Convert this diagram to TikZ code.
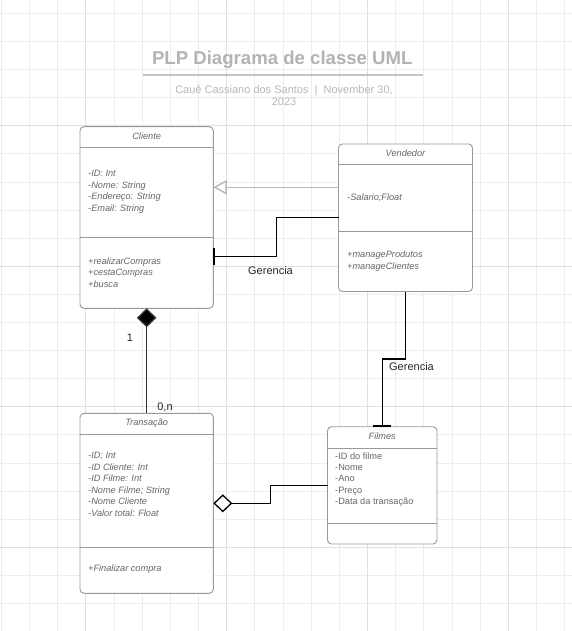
\documentclass[tikz,border=0pt]{standalone}
\usepackage{fontspec}
\setmainfont{Liberation Sans}
\usetikzlibrary{arrows.meta,calc}
\definecolor{gridminor}{HTML}{EDEDED}
\definecolor{gridmajor}{HTML}{E0E0E0}
\definecolor{boxline}{HTML}{999999}
\definecolor{txt}{HTML}{666666}
\definecolor{titlecol}{HTML}{B3B3B3}
\definecolor{subcol}{HTML}{B8B8B8}
\definecolor{ulcol}{HTML}{C4C4C4}
\definecolor{inhcol}{HTML}{B8B8B8}
\tikzset{
 classbox/.style={draw=boxline, line width=0.9pt, rounded corners=4pt, fill=white, inner sep=0pt, outer sep=0pt},
 classtitle/.style={font=\fontsize{9.2}{11}\selectfont\itshape, text=txt, inner sep=0pt},
 member/.style={font=\fontsize{9.2}{11.5}\selectfont\itshape, text=txt, inner sep=0pt, anchor=west, align=left},
 plainmember/.style={font=\fontsize{9.2}{11.4}\selectfont, text=txt, inner sep=0pt, anchor=west, align=left},
 sepline/.style={draw=boxline, line width=0.9pt},
 conn/.style={line width=1.3pt, draw=black},
 lbl/.style={font=\fontsize{11}{13}\selectfont, text=black!85, inner sep=0pt},
 gridln/.style={draw=gridminor, line width=0.8pt},
 gridmj/.style={draw=gridmajor, line width=0.9pt},
}
\begin{document}
\begin{tikzpicture}[x=1pt,y=-1pt]
\useasboundingbox (0,0) rectangle (572,631);
\fill[white] (0,0) rectangle (572,631);
% grid
\foreach \i in {0,...,20} \draw[gridln] (1.3+\i*28.17,0) -- (1.3+\i*28.17,631);
\foreach \j in {0,...,21} \draw[gridln] (0,13.3+\j*28.1) -- (572,13.3+\j*28.1);
\foreach \i in {3,8,13,18} \draw[gridmj] (1.3+\i*28.17,0) -- (1.3+\i*28.17,631);
\foreach \j in {4,9,14,19} \draw[gridmj] (0,13.3+\j*28.1) -- (572,13.3+\j*28.1);

% title
\node[font=\fontsize{18.6}{22}\selectfont\bfseries, text=titlecol, inner sep=0pt] (title) at (282.3,60) {PLP Diagrama de classe UML};
\coordinate (ulA) at (142.7,75);
\coordinate (ulB) at (423.3,75);
\draw[draw=ulcol, line width=2pt] (ulA) -- (ulB);
\node[font=\fontsize{11}{11.7}\selectfont, text=subcol, align=center, inner sep=0pt] (sub) at (284,95.8) {Cauê Cassiano dos Santos~~|~~November 30,\\2023};

% boxes
\node[classbox, minimum width=133.3pt, minimum height=181.6pt] (cliente) at (146.65,217.5) {};
\node[classbox, minimum width=134pt, minimum height=147.5pt] (vend) at (405.5,217.75) {};
\node[classbox, minimum width=133.3pt, minimum height=180pt] (trans) at (146.65,503.3) {};
\node[classbox, minimum width=109.5pt, minimum height=117.3pt] (filmes) at (382.25,485.35) {};

% separators
\draw[sepline] (cliente.west |- 0,147.3) -- (cliente.east |- 0,147.3);
\draw[sepline] (cliente.west |- 0,237.3) -- (cliente.east |- 0,237.3);
\draw[sepline] (vend.west |- 0,164.3) -- (vend.east |- 0,164.3);
\draw[sepline] (vend.west |- 0,231.7) -- (vend.east |- 0,231.7);
\draw[sepline] (trans.west |- 0,434.3) -- (trans.east |- 0,434.3);
\draw[sepline] (trans.west |- 0,547.7) -- (trans.east |- 0,547.7);
\draw[sepline] (filmes.west |- 0,448.3) -- (filmes.east |- 0,448.3);
\draw[sepline] (filmes.west |- 0,523.3) -- (filmes.east |- 0,523.3);

% texts
\node[classtitle] (clT) at (146.65,136) {Cliente};
\node[member] (clA) at (88,191.7) {-ID: Int\\-Nome: String\\-Endereço: String\\-Email: String};
\node[member] (clM) at (88,272.3) {+realizarCompras\\+cestaCompras\\+busca};

\node[classtitle] (veT) at (405.5,153.3) {Vendedor};
\node[member] (veA) at (347,197.3) {-Salario;Float};
\node[member] (veM) at (347,260.9) {+manageProdutos\\+manageClientes};

\node[classtitle] (trT) at (146.65,423.3) {Transação};
\node[member] (trA) at (88,484.4) {-ID; Int\\-ID Cliente: Int\\-ID Filme: Int\\-Nome Filme; String\\-Nome Cliente\\-Valor total: Float};
\node[member] (trM) at (88,569.3) {+Finalizar compra};

\node[classtitle] (fiT) at (382.25,436) {Filmes};
\node[plainmember] (fiA) at (335,479.5) {-ID do filme\\-Nome\\-Ano\\-Preço\\-Data da transação};

% connectors
\draw[draw=inhcol, line width=1.4pt, -{Triangle[open, length=13.5pt, width=14.5pt, fill=white]}] (vend.west |- 0,187.3) -- (cliente.east |- 0,187.3);

\draw[conn, -{Bar[width=17pt, line width=2pt]}] (vend.west |- 0,217.3) -| (276.7,256.5) -- (cliente.east |- 0,256.5);
\node[lbl] (g1) at (270.5,271) {Gerencia};

\draw[line width=1.3pt, draw=black!80, {Diamond[length=19pt, width=19.5pt, fill=black]}-] (cliente.south) -- (trans.north);
\node[lbl] (one) at (130,337.3) {1};
\node[lbl] (zn) at (165,407.3) {0,n};

\draw[conn, -{Bar[width=18pt, line width=2.2pt]}] (vend.south) |- (382.25,359) -- (filmes.north);
\node[lbl] (g2) at (411.5,367) {Gerencia};

\draw[conn, {Diamond[open, length=19pt, width=18pt, fill=white]}-] (trans.east |- 0,503.3) -| (270.3,485.7) -- (filmes.west |- 0,485.7);
\end{tikzpicture}
\end{document}
